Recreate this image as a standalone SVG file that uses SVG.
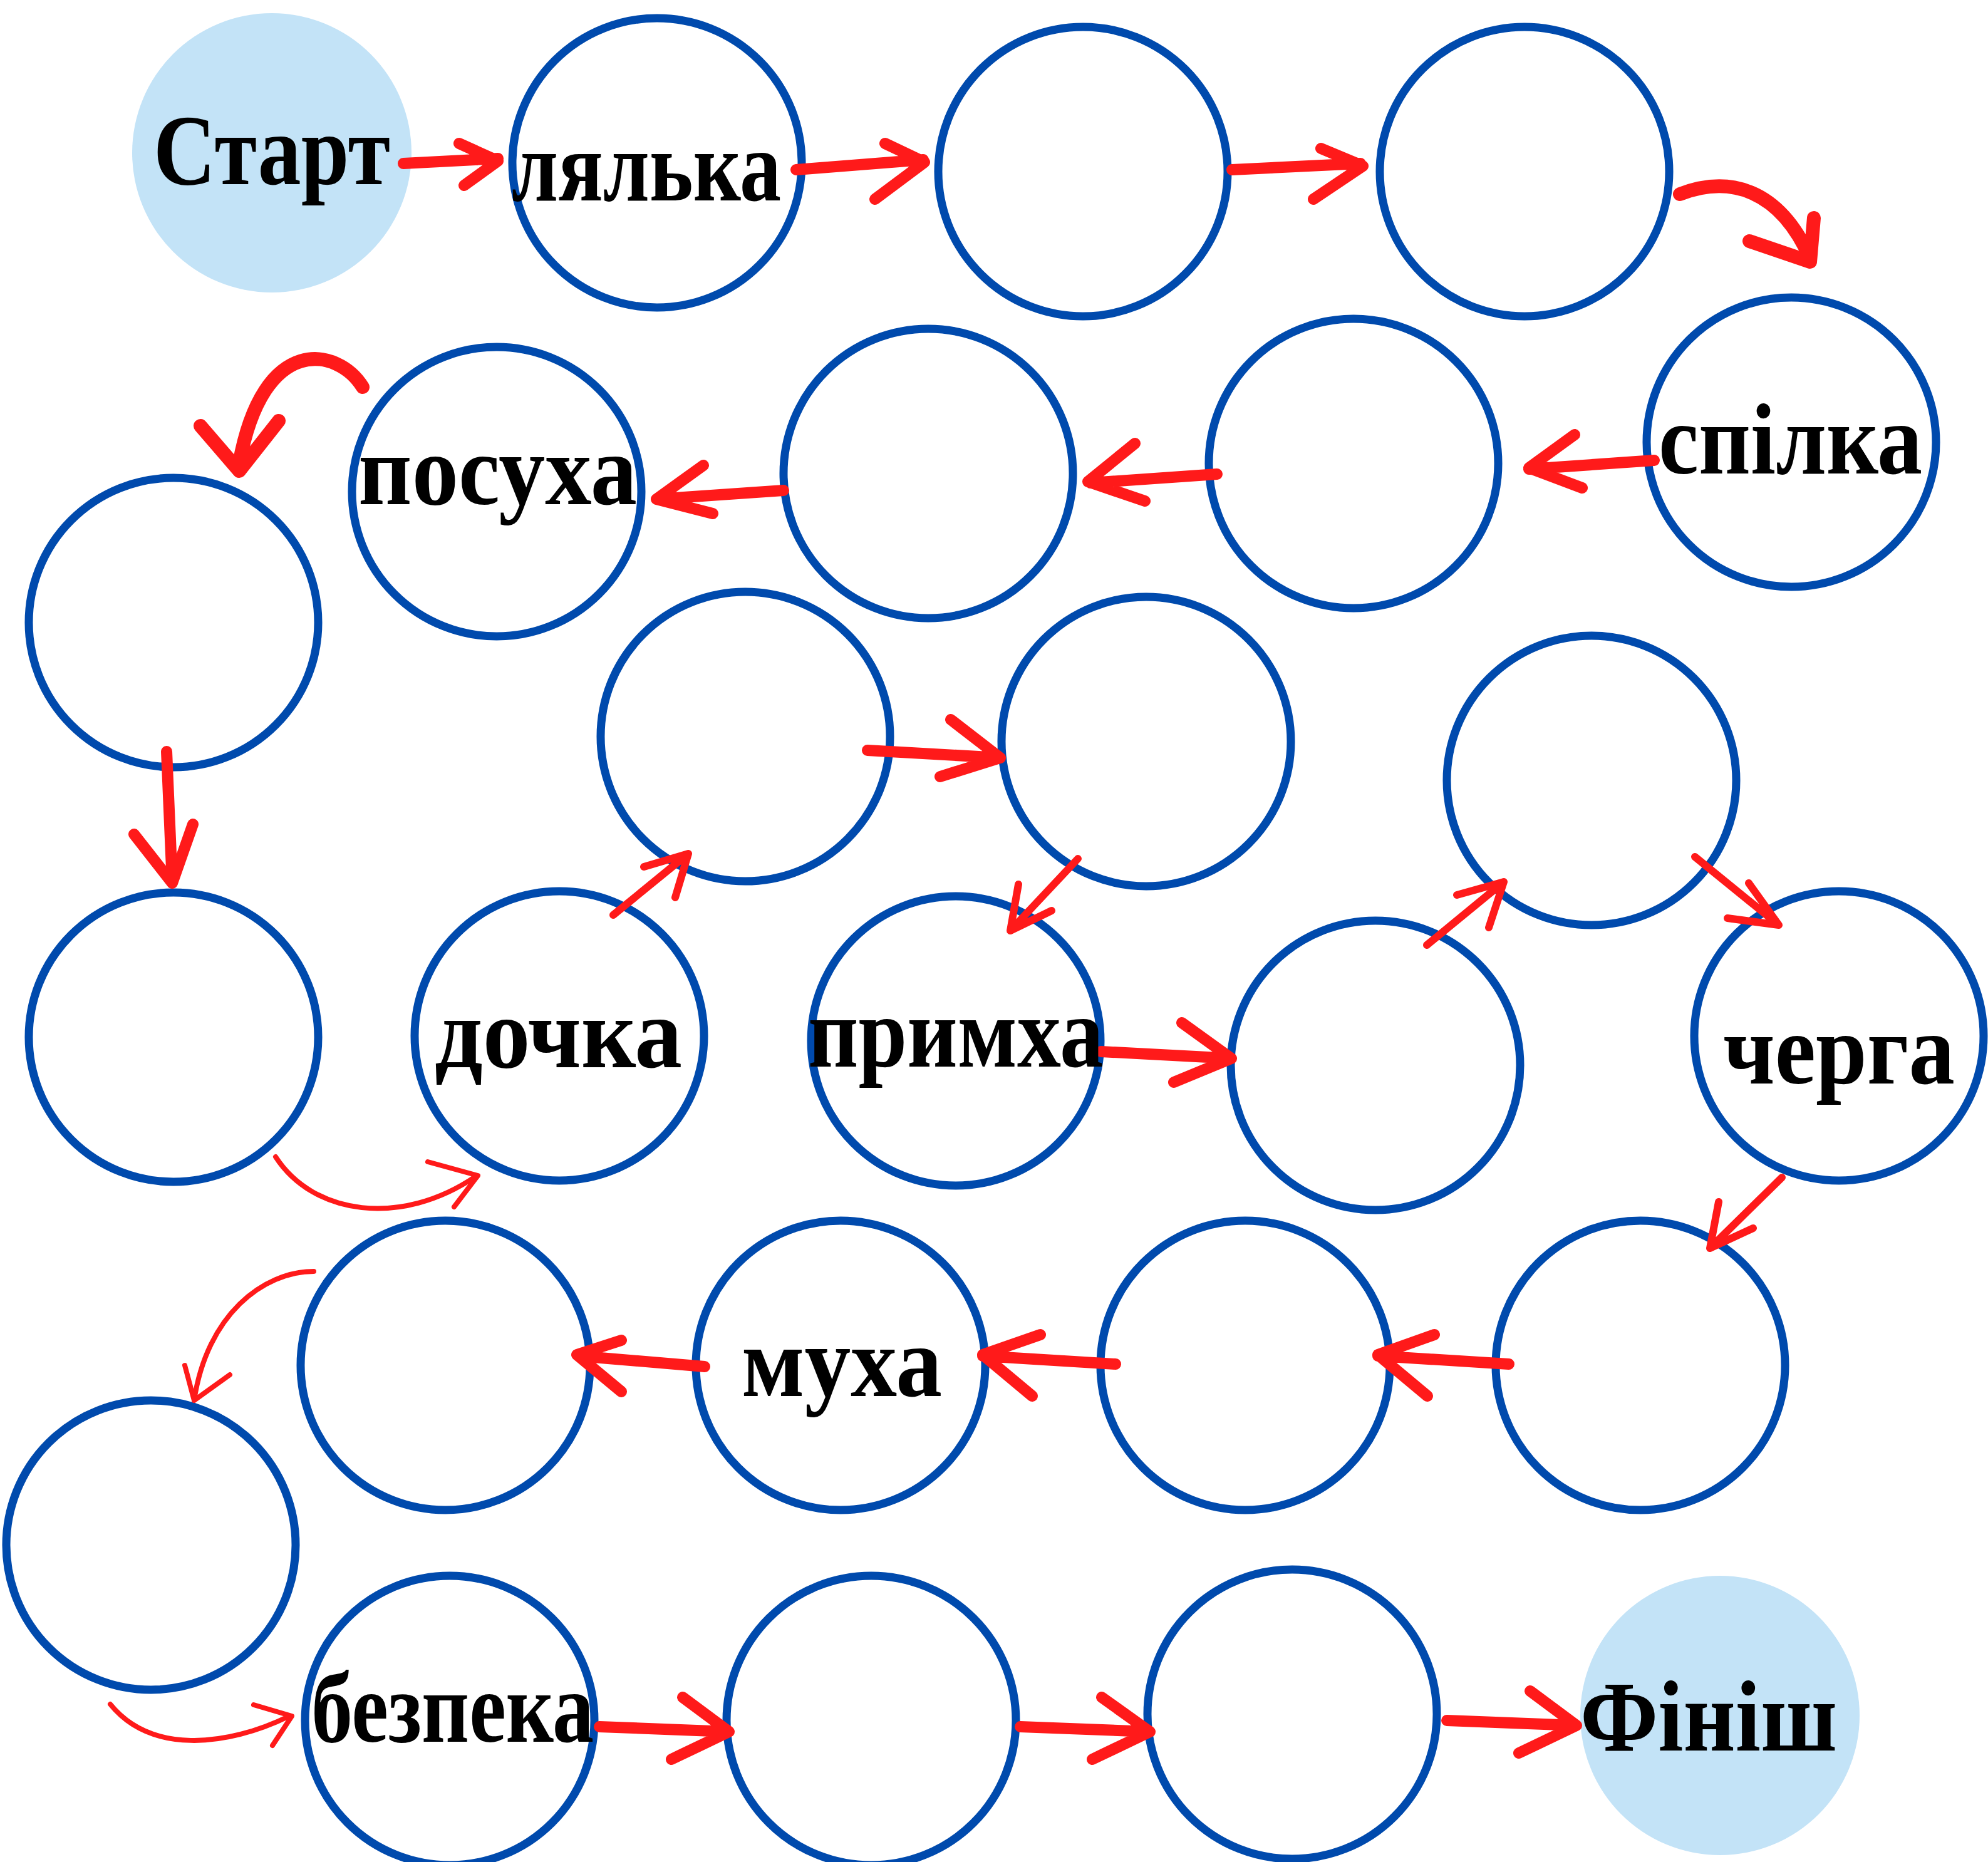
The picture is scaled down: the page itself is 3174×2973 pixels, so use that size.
<svg xmlns="http://www.w3.org/2000/svg" width="3174" height="2973" viewBox="0 0 3174 2973">
<style>
.n{fill:#ffffff;stroke:#004aad;stroke-width:13}
.e{fill:#c3e3f7;stroke:none}
.t{font-family:"Liberation Serif","DejaVu Serif",serif;font-weight:bold;font-size:160px;fill:#000000}
.a{fill:none;stroke:#ff1a1a;stroke-linecap:round;stroke-linejoin:round}
.k{stroke-width:18}
.w{stroke-width:22}
.m{stroke-width:12}
.s{stroke-width:8}
</style>
<rect width="3174" height="2973" fill="#ffffff"/>
<g id="nodes">
<g id="start"><circle class="e" cx="434" cy="244" r="223"/></g>
<g id="n1"><circle class="n" cx="1049" cy="260" r="231"/></g>
<g id="n2"><circle class="n" cx="1729" cy="274" r="231"/></g>
<g id="n3"><circle class="n" cx="2434" cy="274" r="231"/></g>
<g id="n4"><circle class="n" cx="2860" cy="706" r="231"/></g>
<g id="n5"><circle class="n" cx="2161" cy="740" r="231"/></g>
<g id="n6"><circle class="n" cx="1482" cy="756" r="231"/></g>
<g id="n7"><circle class="n" cx="793" cy="785" r="231"/></g>
<g id="n8"><circle class="n" cx="277" cy="994" r="231"/></g>
<g id="n9"><circle class="n" cx="277" cy="1656" r="231"/></g>
<g id="n10"><circle class="n" cx="893" cy="1654" r="231"/></g>
<g id="n11"><circle class="n" cx="1190" cy="1176" r="231"/></g>
<g id="n12"><circle class="n" cx="1830" cy="1184" r="231"/></g>
<g id="n13"><circle class="n" cx="1526" cy="1662" r="231"/></g>
<g id="n14"><circle class="n" cx="2196" cy="1701" r="231"/></g>
<g id="n15"><circle class="n" cx="2541" cy="1246" r="231"/></g>
<g id="n16"><circle class="n" cx="2936" cy="1654" r="231"/></g>
<g id="n17"><circle class="n" cx="2619" cy="2180" r="231"/></g>
<g id="n18"><circle class="n" cx="1988" cy="2180" r="231"/></g>
<g id="n19"><circle class="n" cx="1342" cy="2180" r="231"/></g>
<g id="n20"><circle class="n" cx="711" cy="2180" r="231"/></g>
<g id="n21"><circle class="n" cx="241" cy="2467" r="231"/></g>
<g id="n22"><circle class="n" cx="718" cy="2747" r="231"/></g>
<g id="n23"><circle class="n" cx="1391" cy="2747" r="231"/></g>
<g id="n24"><circle class="n" cx="2063" cy="2737" r="231"/></g>
<g id="finish"><circle class="e" cx="2746" cy="2739" r="223"/></g>
</g>
<g id="connectors">
<path class="a k" d="M644,261 L795,253 M733,229 L795,257 L741,296"/>
<path class="a k" d="M1271,271 L1474,255 M1413,229 L1476,259 L1397,318"/>
<path class="a k" d="M1967,271 L2172,261 M2109,237 L2176,265 L2097,318"/>
<path class="a w" d="M2682,310 C2760,280 2840,300 2890,412 M2793,385 L2890,418 L2896,348"/>
<path class="a k" d="M2641,735 L2441,749 M2514,694 L2441,747 L2526,779"/>
<path class="a k" d="M1943,757 L1741,771 M1812,708 L1737,769 L1828,800"/>
<path class="a k" d="M1251,783 L1048,797 M1123,743 L1048,797 L1138,820"/>
<path class="a w" d="M579,618 C540,555 420,530 382,740 M320,680 L382,752 L445,672"/>
<path class="a k" d="M266,1200 L275,1410 M214,1332 L275,1410 L308,1316"/>
<path class="a s" d="M440,1847 C500,1940 640,1960 760,1878 M683,1855 L763,1877 L725,1927"/>
<path class="a m" d="M979,1461 L1099,1363 M1028,1384 L1099,1363 L1078,1433"/>
<path class="a k" d="M1385,1198 L1597,1210 M1518,1149 L1597,1210 L1501,1240"/>
<path class="a m" d="M1721,1371 L1613,1486 M1626,1412 L1613,1486 L1679,1454"/>
<path class="a k" d="M1758,1679 L1966,1690 M1887,1633 L1966,1690 L1874,1728"/>
<path class="a m" d="M2278,1509 L2401,1408 M2326,1429 L2401,1408 L2377,1481"/>
<path class="a m" d="M2706,1368 L2840,1477 M2792,1410 L2840,1477 L2758,1466"/>
<path class="a m" d="M2845,1880 L2730,1993 M2744,1919 L2730,1993 L2799,1961"/>
<path class="a k" d="M2409,2178 L2200,2165 M2290,2131 L2200,2163 L2279,2229"/>
<path class="a k" d="M1781,2178 L1569,2165 M1661,2131 L1569,2163 L1648,2229"/>
<path class="a k" d="M1125,2182 L923,2165 M992,2140 L921,2163 L992,2222"/>
<path class="a s" d="M501,2030 C420,2030 330,2100 310,2236 M295,2180 L310,2236 L367,2195"/>
<path class="a s" d="M176,2721 C240,2800 360,2790 462,2740 M405,2722 L466,2740 L435,2787"/>
<path class="a k" d="M957,2757 L1164,2765 M1090,2710 L1164,2765 L1072,2809"/>
<path class="a k" d="M1629,2757 L1836,2765 M1759,2710 L1836,2765 L1744,2809"/>
<path class="a k" d="M2310,2747 L2517,2755 M2443,2700 L2517,2755 L2425,2799"/>
</g>
<g id="labels">
<text class="t" x="245" y="294" textLength="378" lengthAdjust="spacingAndGlyphs">Старт</text>
<text class="t" x="817" y="320" textLength="430" lengthAdjust="spacingAndGlyphs">лялька</text>
<text class="t" x="2648" y="756" textLength="421" lengthAdjust="spacingAndGlyphs">спілка</text>
<text class="t" x="572" y="805" textLength="445" lengthAdjust="spacingAndGlyphs">посуха</text>
<text class="t" x="694" y="1704" textLength="395" lengthAdjust="spacingAndGlyphs">дочка</text>
<text class="t" x="1290" y="1703" textLength="472" lengthAdjust="spacingAndGlyphs">примха</text>
<text class="t" x="2751" y="1730" textLength="370" lengthAdjust="spacingAndGlyphs">черга</text>
<text class="t" x="1184" y="2229" textLength="320" lengthAdjust="spacingAndGlyphs">муха</text>
<text class="t" x="497" y="2781" textLength="451" lengthAdjust="spacingAndGlyphs">безпека</text>
<text class="t" x="2523" y="2795" textLength="410" lengthAdjust="spacingAndGlyphs">Фініш</text>
</g>
</svg>
